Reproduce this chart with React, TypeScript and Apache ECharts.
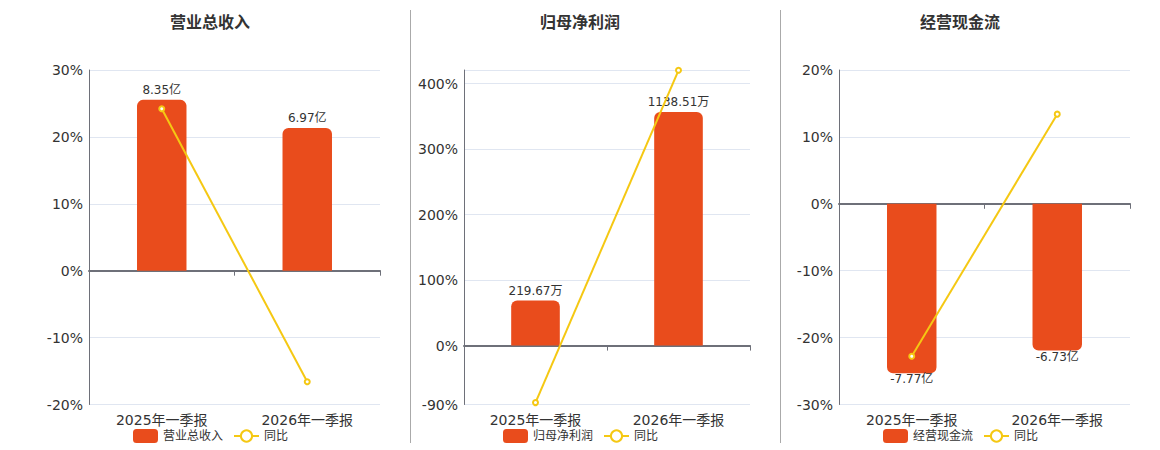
import React, { useEffect, useRef } from "react";
import * as echarts from "echarts";

const categories = ["2025年一季报", "2026年一季报"];
const titles = ["营业总收入", "归母净利润", "经营现金流"];
const units = ["亿", "万", "亿"];

const revenueValues = [8.35, 6.97];
const revenueYoY = [24.2, -16.6];
const profitValues = [219.67, 1138.51];
const profitYoY = [-87.1, 420.5];
const cashValues = [-7.77, -6.73];
const cashYoY = [-22.8, 13.4];

const pctRanges = [
  [-20, 30],
  [-90, 421],
  [-30, 20],
];
const barRanges = [
  [-6.54, 9.81],
  [-287, 1343],
  [-9.2, 6.134],
];

const barSeries = [revenueValues, profitValues, cashValues];
const lineSeries = [revenueYoY, profitYoY, cashYoY];

const BAR_COLOR = "#E94C1C";
const LINE_COLOR = "#F5C813";
const AXIS_COLOR = "#6E7079";
const FONT = "'DejaVu Sans', 'Noto Sans CJK SC', sans-serif";

const gridBoxes = [
  { left: 89, width: 291 },
  { left: 464, width: 286 },
  { left: 839, width: 291 },
];
const titleLefts = [205, 575, 955];
const legendLefts = [128, 498, 878];

function buildOption() {
  const grid: any[] = [];
  const xAxis: any[] = [];
  const yAxis: any[] = [];
  const series: any[] = [];
  const title: any[] = [];
  const legend: any[] = [];

  for (let i = 0; i < 3; i++) {
    grid.push({
      left: gridBoxes[i].left,
      width: gridBoxes[i].width,
      top: 70,
      height: 334.5,
      containLabel: false,
    });
    title.push({
      text: titles[i],
      left: titleLefts[i],
      textAlign: "center",
      top: 9,
      textStyle: { fontSize: 16, fontWeight: "bold", color: "#333", fontFamily: FONT },
    });
    legend.push({
      data: [titles[i], "同比"],
      left: legendLefts[i],
      top: 424,
      itemWidth: 25,
      itemHeight: 14,
      itemGap: 10,
      textStyle: { fontSize: 12, color: "#333", fontFamily: FONT },
    });
    xAxis.push({
      type: "category",
      gridIndex: i,
      data: categories,
      position: "bottom",
      axisLine: { show: false, onZero: false },
      axisTick: { show: false },
      axisLabel: { fontSize: 14, color: "#333", margin: 8, fontFamily: FONT },
    });
    xAxis.push({
      type: "category",
      gridIndex: i,
      data: categories,
      position: "top",
      axisLine: {
        show: true,
        onZero: true,
        onZeroAxisIndex: i * 2,
        lineStyle: { color: AXIS_COLOR, width: 2 },
      },
      axisTick: { show: true, inside: true, length: 5, lineStyle: { color: AXIS_COLOR } },
      axisLabel: { show: false },
    });
    yAxis.push({
      type: "value",
      gridIndex: i,
      min: pctRanges[i][0],
      max: pctRanges[i][1],
      splitNumber: 5,
      axisLine: { show: true, lineStyle: { color: AXIS_COLOR } },
      axisTick: { show: false },
      axisLabel: {
        fontSize: 14,
        color: "#333",
        margin: 6,
        fontFamily: FONT,
        formatter: "{value}%",
        showMaxLabel: i !== 1,
        showMinLabel: true,
      },
      splitLine: { show: true, lineStyle: { color: "#E0E6F1" } },
    });
    yAxis.push({
      type: "value",
      gridIndex: i,
      min: barRanges[i][0],
      max: barRanges[i][1],
      show: false,
      splitLine: { show: false },
    });
    const unit = units[i];
    series.push({
      name: titles[i],
      type: "bar",
      xAxisIndex: i * 2,
      yAxisIndex: i * 2 + 1,
      barWidth: "34%",
      itemStyle: { color: BAR_COLOR },
      data: barSeries[i].map((v) => ({
        value: v,
        itemStyle: { borderRadius: v >= 0 ? [6, 6, 0, 0] : [0, 0, 6, 6] },
        label: {
          show: true,
          position: v >= 0 ? "top" : "bottom",
          distance: v >= 0 ? 4 : 0,
          fontSize: 12,
          color: "#333",
          fontFamily: FONT,
          formatter: () => `${v}${unit}`,
        },
      })),
    });
    series.push({
      name: "同比",
      type: "line",
      xAxisIndex: i * 2,
      yAxisIndex: i * 2,
      data: lineSeries[i],
      symbol: "emptyCircle",
      symbolSize: 5,
      lineStyle: { color: LINE_COLOR, width: 2 },
      itemStyle: { color: LINE_COLOR },
      z: 5,
    });
  }

  return {
    animation: false,
    textStyle: { fontFamily: FONT },
    title,
    legend,
    grid,
    xAxis,
    yAxis,
    series,
    graphic: [
      {
        type: "line",
        shape: { x1: 410.5, y1: 10, x2: 410.5, y2: 443 },
        style: { stroke: "#AAAAAA", lineWidth: 1 },
      },
      {
        type: "line",
        shape: { x1: 780.5, y1: 10, x2: 780.5, y2: 443 },
        style: { stroke: "#AAAAAA", lineWidth: 1 },
      },
    ],
  };
}

export default function App() {
  const ref = useRef<HTMLDivElement>(null);
  useEffect(() => {
    if (!ref.current) return;
    const chart = echarts.init(ref.current, undefined, { renderer: "svg" });
    chart.setOption(buildOption() as any);
    return () => chart.dispose();
  }, []);
  return (
    <div
      ref={ref}
      style={{ position: "absolute", left: 0, top: 0, width: 1160, height: 450 }}
    />
  );
}
